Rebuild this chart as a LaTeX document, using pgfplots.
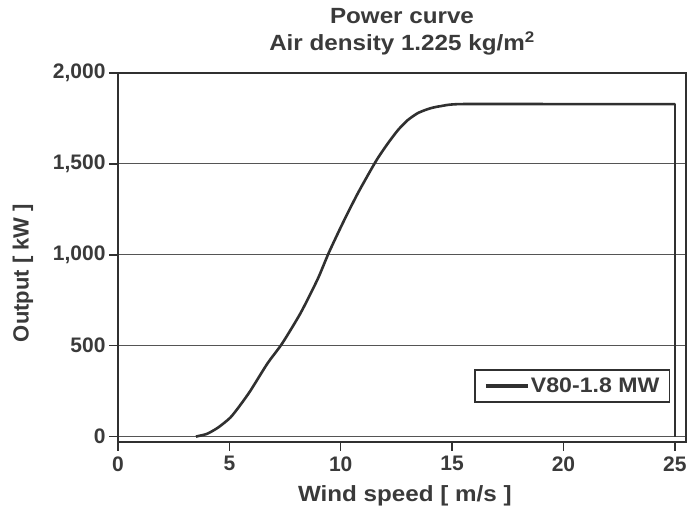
\documentclass[border=0pt]{standalone}
\usepackage{fontspec}
\setmainfont{Liberation Sans}
\newfontfamily\widefont{Liberation Sans}[FakeStretch=1.1]
\usepackage{pgfplots}
\pgfplotsset{compat=1.18}
\definecolor{ink}{HTML}{3A3A3A}
\definecolor{linec}{HTML}{303030}
\definecolor{gridc}{HTML}{555555}
\begin{document}
\begin{tikzpicture}
\begin{axis}[
  scale only axis,
  clip=false,
  width=568pt, height=369pt,
  xmin=0, xmax=25.5, ymin=-30, ymax=2000,
  xtick={0,5,10,15,20,25},
  ytick={0,500,1000,1500,2000},
  /pgf/number format/assume math mode=true,
  /pgf/number format/1000 sep={,},
  ymajorgrids,
  grid style={gridc, line width=0.9pt},
  axis line style={linec, line width=2.2pt},
  tick style={linec, line width=1.5pt},
  tick align=outside,
  major tick length=9pt,
  xtick pos=bottom, ytick pos=left,
  ticklabel style={font=\fontsize{21}{21}\selectfont\bfseries, text=ink},
  xticklabel style={yshift=-2pt},
  title={Power curve\\Air density 1.225 kg/m\textsuperscript{2}},
  title style={at={(0.5,1)}, anchor=south, yshift=12pt, align=center,
    font=\widefont\fontsize{22}{27}\selectfont\bfseries, text=ink, inner sep=0pt},
  legend style={at={(rel axis cs:0.972,0.106)}, anchor=south east,
    draw=linec, line width=1.5pt, inner xsep=9pt, inner ysep=6pt,
    font=\widefont\fontsize{21}{24}\selectfont\bfseries, text=ink,
    nodes={inner xsep=1pt, inner ysep=2pt}},
  legend image code/.code={\draw[linec, line width=4pt] (0pt,0pt) -- (42pt,0pt);},
]
\addplot[linec, line width=2.6pt, line join=round, smooth, tension=0.4] coordinates {
(3.5,0) (4,15) (4.5,50) (5.05,105) (5.5,175) (5.95,253) (6.71,402) (7.37,512)
(8.2,680) (8.96,865) (9.46,1010) (10.09,1174) (10.77,1339) (11.58,1515)
(12.1,1610) (12.57,1686) (13,1740) (13.47,1780) (14,1805) (14.5,1818)
(15.4,1829) (20,1829) (25,1829)
};
\addlegendentry{V80-1.8 MW}
\addplot[linec, line width=2.6pt, line join=round, forget plot] coordinates {
(24,1829) (25,1829) (25,0)
};
\node[font=\widefont\fontsize{22}{26}\selectfont\bfseries, text=ink, anchor=base, yshift=-60pt]
  at (rel axis cs:0.505,0) {Wind speed [ m/s ]};
\path (rel axis cs:0,0.458) ++(-95pt,0pt)
  node[font=\fontsize{22}{26}\selectfont\bfseries, text=ink, rotate=90, anchor=center] {Output [ kW ]};
\end{axis}
\pgfresetboundingbox
\path[use as bounding box] (-118pt,-68pt) rectangle (578pt,442pt);
\end{tikzpicture}
\end{document}
